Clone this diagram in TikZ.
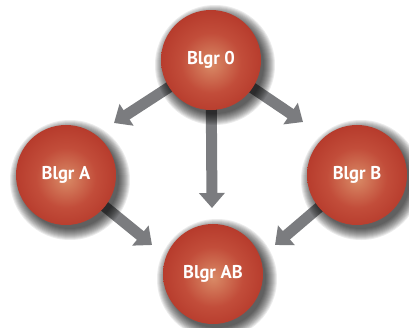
\documentclass[tikz,border=0pt]{standalone}
\usepackage{fontspec}
\setmainfont{PT Sans}
\usetikzlibrary{arrows.meta}
\definecolor{sphC}{HTML}{D98A66}
\definecolor{sphM}{HTML}{C24D3A}
\definecolor{sphE}{HTML}{AE2E22}
\definecolor{sphD}{HTML}{A0221A}
\definecolor{arrowgray}{HTML}{7B7C7F}
\pgfdeclareradialshading{sphere}{\pgfpoint{0bp}{-2bp}}{color(0bp)=(sphC); color(15bp)=(sphM); color(34bp)=(sphE); color(50bp)=(sphD)}
\pgfdeclarelayer{bg}
\pgfsetlayers{bg,main}
\tikzset{
  ball/.style={circle, minimum size=100pt, inner sep=0pt, shading=sphere, text=white,
    font=\bfseries\fontsize{18.5}{20}\selectfont},
  arr/.style={line width=11pt, color=arrowgray, -{Triangle[width=25pt,length=15pt]}},
}
\newcommand{\ballshadow}[2]{%
  \foreach \k in {0,...,11}{\fill[black, opacity=0.08] (#1+4,#2+5) circle ({60pt-\k pt});}%
}
\begin{document}
\begin{tikzpicture}[x=1pt,y=-1pt]
\useasboundingbox (0,0) rectangle (409,327);
\ballshadow{211}{60}
\ballshadow{66}{175}
\ballshadow{357}{175}
\ballshadow{213}{274}
\node[ball] (b0) at (211,60) {Blgr 0};
\node[ball] (bA) at (66,175) {Blgr A};
\node[ball] (bB) at (357,175) {Blgr B};
\node[ball] (bAB) at (213,274) {Blgr AB};
\coordinate (tL) at (114,123);
\coordinate (tR) at (303,122);
\coordinate (tD) at (212,208);
\coordinate (tA) at (152,245);
\coordinate (tB) at (275,245);
\begin{pgfonlayer}{bg}
\draw[arr] (b0.center) -- (tL);
\draw[arr] (b0.center) -- (tR);
\draw[arr] (b0.center) -- (tD);
\draw[arr] (bA.center) -- (tA);
\draw[arr] (bB.center) -- (tB);
\end{pgfonlayer}
\end{tikzpicture}
\end{document}
